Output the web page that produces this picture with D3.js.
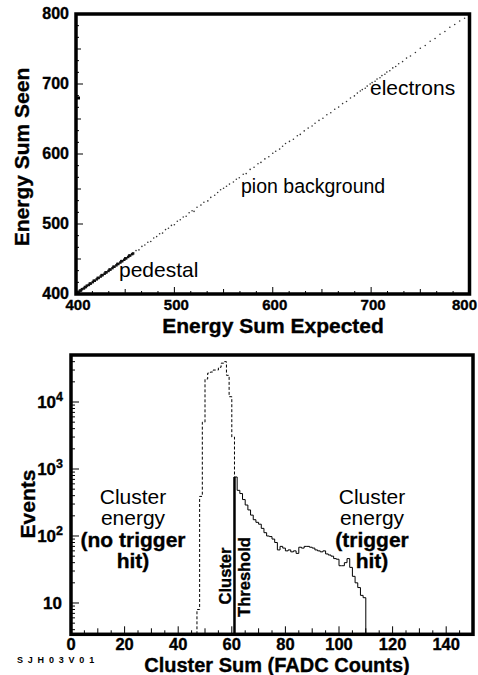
<!DOCTYPE html>
<html>
<head>
<meta charset="utf-8">
<script src="https://cdn.jsdelivr.net/npm/d3@7"></script>
<style>
  body { margin: 0; background: #fff; }
  text { font-family: "Liberation Sans", Arial, sans-serif; fill: #000; }
  text.heavy { stroke: #000; stroke-width: 0.35; }
</style>
</head>
<body>
<svg id="chart" width="478" height="675"></svg>
<script>
// ---- top panel: energy sum seen vs expected ----
const pedExp  = [401,402,403,404,405,406,408,409,410,411,413,414,415,417,418,419,421,422,423,425,426,427,429,430,431,433,434,435,437,438,439,441,442,443,445,446,447,449,450,451,453,454,455,457,458]
const pedSeen = [401,403,403,405,405,407,408,410,410,412,413,415,415,417,419,419,421,423,423,425,427,427,429,431,431,433,435,435,437,439,439,441,443,443,445,447,447,449,451,451,453,455,455,457,458]
const bgExp  = [461,464,467,470,473,476,479,482,485,488,491,494,497,500,503,506,509,512,515,518,520,523,527,530,534,537,541,544,547,550,553,556,560,563,566,570,573,577,581,585,588,592,596,600,603,607,610,613,617,621,625,628,632,636,640,643,647,651,655,659,663,667,671,675,679,683,686,689,691,694,696,699,701,704,706,709,711,714,716,719,722,725,728,732,736,740,745,750,755,760,765,770,775,780,785,790,795]
const bgSeen = [462,463,468,470,474,475,480,482,486,487,492,494,498,499,504,506,510,511,516,519,518,524,527,531,533,538,541,545,549,551,554,557,560,564,566,571,572,578,581,586,588,593,596,601,604,607,611,615,618,621,626,628,633,637,640,644,648,651,656,659,664,667,672,675,680,683,687,690,692,694,697,700,702,704,707,709,712,714,717,719,723,725,729,732,737,740,745,751,755,761,765,771,775,781,785,790,794]
const topXTicks = [400, 500, 600, 700, 800]
const topYTicks = [400, 500, 600, 700, 800]
const markSeen = 680

// ---- bottom panel: cluster sum histograms ----
const noTrigStart = 47
const noTrigVals = [8, 390, 5000, 22000, 27000, 28000, 30000, 30000, 33000, 38000, 40000, 25000, 12000, 3000]
const trigStart = 61
const trigVals = [760, 480, 430, 350, 290, 245, 205, 175, 160, 150, 130, 112, 100, 98, 90, 80, 62, 70, 66, 60,
                  62, 58, 60, 55, 68, 66, 70, 70, 68, 66, 62, 60, 58, 60, 54, 52, 50, 46, 45, 36,
                  36, 40, 46, 34, 25, 20, 17, 13, 12]
const botXTicks = [0, 20, 40, 60, 80, 100, 120, 140]
const botYDecades = [1, 2, 3, 4]

const svg = d3.select("#chart")

// ================= top panel =================
const x1 = d3.scaleLinear().domain([400, 800]).range([76, 469.5])
const y1 = d3.scaleLinear().domain([400, 800]).range([294, 14])
const topG = svg.append("g")

// minor / medium ticks (inside)
const topMinor = d3.range(400, 800.01, 100 / 6)
topG.selectAll(".txm").data(topMinor).join("line")
  .attr("x1", d => x1(d)).attr("x2", d => x1(d))
  .attr("y1", y1(400)).attr("y2", (d, i) => y1(400) - (i % 6 === 0 ? 7 : i % 3 === 0 ? 5 : 3))
  .attr("stroke", "#000").attr("stroke-width", 1)
topG.selectAll(".tym").data(topMinor).join("line")
  .attr("y1", d => y1(d)).attr("y2", d => y1(d))
  .attr("x1", x1(400)).attr("x2", (d, i) => x1(400) + (i % 6 === 0 ? 7 : i % 3 === 0 ? 5 : 3))
  .attr("stroke", "#000").attr("stroke-width", 1)

topG.selectAll(".ped").data(pedExp).join("rect")
  .attr("x", d => x1(d) - 1.2).attr("y", (d, i) => y1(pedSeen[i]) - 1.2)
  .attr("width", 2.5).attr("height", 2.5).attr("fill", "#111")
topG.selectAll(".bg").data(bgExp).join("circle")
  .attr("cx", d => x1(d)).attr("cy", (d, i) => y1(bgSeen[i]))
  .attr("r", 0.8).attr("fill", "#333")

topG.append("rect")
  .attr("x", x1(400)).attr("y", y1(markSeen) - 1.5).attr("width", 4).attr("height", 3).attr("fill", "#000")

topG.append("rect")
  .attr("x", x1(400)).attr("y", y1(800))
  .attr("width", x1(800) - x1(400)).attr("height", y1(400) - y1(800))
  .attr("fill", "none").attr("stroke", "#000").attr("stroke-width", 3.5)

topG.selectAll(".xl").data(topXTicks).join("text")
  .attr("class", "heavy")
  .attr("x", (d, i) => i === topXTicks.length - 1 ? 477 : x1(d) + 2).attr("y", 310)
  .attr("text-anchor", (d, i) => i === topXTicks.length - 1 ? "end" : "middle")
  .attr("font-size", 15).attr("font-weight", "bold")
  .text(d => d)
topG.selectAll(".yl").data(topYTicks).join("text")
  .attr("class", "heavy")
  .attr("x", 69).attr("y", d => y1(d) + 5)
  .attr("text-anchor", "end").attr("font-size", 16).attr("font-weight", "bold")
  .text(d => d)

topG.append("text").attr("class", "heavy").attr("x", 273).attr("y", 333)
  .attr("text-anchor", "middle").attr("font-size", 21).attr("font-weight", "bold")
  .text("Energy Sum Expected")
topG.append("text").attr("class", "heavy").attr("transform", "translate(29,157) rotate(-90)")
  .attr("text-anchor", "middle").attr("font-size", 21).attr("font-weight", "bold")
  .text("Energy Sum Seen")

topG.append("text").attr("x", 370).attr("y", 95).attr("font-size", 21).text("electrons")
topG.append("text").attr("x", 241).attr("y", 193).attr("font-size", 19.5).text("pion background")
topG.append("text").attr("x", 119).attr("y", 277).attr("font-size", 21).text("pedestal")

// ================= bottom panel =================
const x2 = d3.scaleLinear().domain([0, 150]).range([71, 473])
const y2 = d3.scaleLog().domain([3.41, 50300]).range([634.3, 355])
const yMin = y2.domain()[0]
const bot = svg.append("g")

const botMinor = d3.range(0, 150.01, 5)
bot.selectAll(".bxm").data(botMinor).join("line")
  .attr("x1", d => x2(d)).attr("x2", d => x2(d))
  .attr("y1", y2(yMin)).attr("y2", d => y2(yMin) - (d % 20 === 0 ? 8 : d % 10 === 0 ? 6 : 4))
  .attr("stroke", "#000").attr("stroke-width", 1)

const logTicks = []
for (let p = 0; p <= 4; p++) {
  for (let m = 1; m <= 9; m++) {
    const v = m * Math.pow(10, p)
    if (v >= yMin && v <= y2.domain()[1]) logTicks.push({ v, major: m === 1 })
  }
}
bot.selectAll(".bym").data(logTicks).join("line")
  .attr("y1", d => y2(d.v)).attr("y2", d => y2(d.v))
  .attr("x1", x2(0)).attr("x2", d => x2(0) + (d.major ? 8 : 4))
  .attr("stroke", "#000").attr("stroke-width", 1)

const stepLine = d3.line().x(d => x2(d[0])).y(d => y2(d[1])).curve(d3.curveStepAfter)

const dashPts = [[noTrigStart, yMin]]
noTrigVals.forEach((v, i) => dashPts.push([noTrigStart + i, v]))
const noTrigEnd = noTrigStart + noTrigVals.length
dashPts.push([noTrigEnd, noTrigVals[noTrigVals.length - 1]])
dashPts.push([noTrigEnd, trigVals[0]])
bot.append("path").attr("d", stepLine(dashPts))
  .attr("fill", "none").attr("stroke", "#000").attr("stroke-width", 1).attr("stroke-dasharray", "3,2")

const solidPts = [[trigStart, yMin]]
trigVals.forEach((v, i) => solidPts.push([trigStart + i, v]))
const trigEnd = trigStart + trigVals.length
solidPts.push([trigEnd, trigVals[trigVals.length - 1]])
solidPts.push([trigEnd, yMin])
bot.append("path").attr("d", stepLine(solidPts))
  .attr("fill", "none").attr("stroke", "#000").attr("stroke-width", 1)

// threshold line
bot.append("line")
  .attr("x1", x2(trigStart)).attr("x2", x2(trigStart))
  .attr("y1", y2(yMin)).attr("y2", y2(trigVals[0]))
  .attr("stroke", "#000").attr("stroke-width", 2.5)

bot.append("rect")
  .attr("x", x2(0)).attr("y", y2.range()[1])
  .attr("width", x2(150) - x2(0)).attr("height", y2.range()[0] - y2.range()[1])
  .attr("fill", "none").attr("stroke", "#000").attr("stroke-width", 3.5)

bot.selectAll(".xl").data(botXTicks).join("text")
  .attr("class", "heavy")
  .attr("x", d => x2(d)).attr("y", 650)
  .attr("text-anchor", "middle").attr("font-size", 16.5).attr("font-weight", "bold")
  .text(d => d)

botYDecades.forEach(p => {
  const t = bot.append("text")
    .attr("class", "heavy")
    .attr("x", 63).attr("y", y2(Math.pow(10, p)) + 6)
    .attr("text-anchor", "end").attr("font-size", 17).attr("font-weight", "bold")
  if (p === 1) {
    t.attr("x", 62).text("10")
  } else {
    t.append("tspan").text("10")
    t.append("tspan").attr("dy", -7).attr("font-size", 12.5).text(p)
  }
})

bot.append("text").attr("class", "heavy").attr("x", 277).attr("y", 671.5)
  .attr("text-anchor", "middle").attr("font-size", 20).attr("font-weight", "bold")
  .text("Cluster Sum (FADC Counts)")
bot.append("text").attr("class", "heavy").attr("transform", "translate(35,504) rotate(-90)")
  .attr("text-anchor", "middle").attr("font-size", 21).attr("font-weight", "bold")
  .text("Events")

bot.append("text").attr("x", 17).attr("y", 663)
  .attr("font-size", 9).attr("font-weight", "bold").attr("letter-spacing", 4.8)
  .text("SJH03V01")

const leftLabel = [["Cluster", "normal"], ["energy", "normal"], ["(no trigger", "bold"], ["hit)", "bold"]]
const rightLabel = [["Cluster", "normal"], ["energy", "normal"], ["(trigger", "bold"], ["hit)", "bold"]]
const labelY = [504, 525, 547, 568]
bot.selectAll(".ll").data(leftLabel).join("text")
  .attr("class", d => d[1] === "bold" ? "heavy" : null)
  .attr("x", 133).attr("y", (d, i) => labelY[i])
  .attr("text-anchor", "middle").attr("font-size", 21).attr("font-weight", d => d[1])
  .text(d => d[0])
bot.selectAll(".rl").data(rightLabel).join("text")
  .attr("class", d => d[1] === "bold" ? "heavy" : null)
  .attr("x", 372).attr("y", (d, i) => labelY[i])
  .attr("text-anchor", "middle").attr("font-size", 21).attr("font-weight", d => d[1])
  .text(d => d[0])

bot.append("text").attr("class", "heavy").attr("transform", "translate(231,576) rotate(-90)")
  .attr("text-anchor", "middle").attr("font-size", 16.5).attr("font-weight", "bold")
  .text("Cluster")
bot.append("text").attr("class", "heavy").attr("transform", "translate(250,577) rotate(-90)")
  .attr("text-anchor", "middle").attr("font-size", 16.5).attr("font-weight", "bold")
  .text("Threshold")
</script>
</body>
</html>
